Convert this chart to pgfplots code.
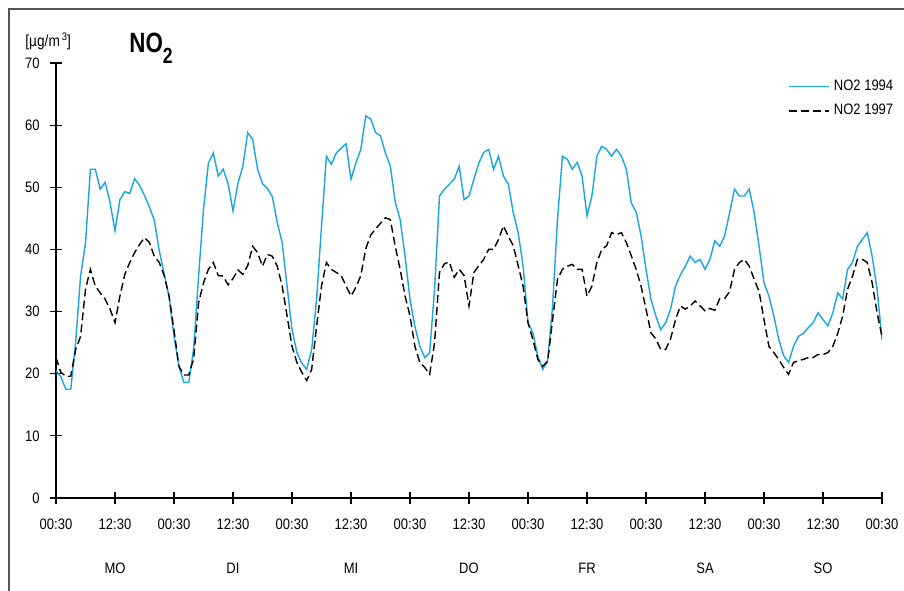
\documentclass[border=0pt]{standalone}
\usepackage{pgfplots}
\pgfplotsset{compat=1.18}
\usepackage{fontspec}
\setmainfont{Liberation Sans}[FakeStretch=0.86]
\newfontfamily\titlefont{Liberation Sans}[FakeStretch=0.8]
\definecolor{blue94}{RGB}{25,165,225}
\definecolor{framegray}{RGB}{85,85,85}
\begin{document}
\begin{tikzpicture}
\path[use as bounding box] (-28bp,-46.5bp) rectangle (424bp,249bp);
\draw[framegray, line width=0.8bp] (-23.5bp,-46.5bp) -- (-23.5bp,244.5bp) -- (424bp,244.5bp);
\node[anchor=base west, inner sep=0pt] at (36.5bp,222.5bp) {\titlefont\bfseries\fontsize{14}{14}\selectfont NO\raisebox{-5.5bp}{\fontsize{11}{11}\selectfont 2}};
\node[anchor=base west, inner sep=0pt] at (-15.5bp,225.5bp) {\fontsize{8}{9}\selectfont [µg/m\kern1bp\raisebox{3bp}{\fontsize{5.5}{5.5}\selectfont 3}]};
\begin{axis}[
  scale only axis, width=413bp, height=217.5bp,
  xmin=0, xmax=168, ymin=0, ymax=70,
  axis lines*=left,
  axis line style={line width=0.6bp, black},
  tick align=center,
  major tick length=6bp,
  tick style={black, line width=0.6bp},
  xtick={0,12,...,168},
  xticklabels={00:30,12:30,00:30,12:30,00:30,12:30,00:30,12:30,00:30,12:30,00:30,12:30,00:30,12:30,00:30},
  ytick={0,10,...,70},
  /pgf/number format/assume math mode=true,
  tick label style={font=\fontsize{7.6}{8}\selectfont},
  xticklabel style={anchor=north, inner ysep=0pt, yshift=-7.5bp},
  yticklabel style={anchor=east, inner xsep=0pt, xshift=-5bp},
  extra x ticks={12,36,60,84,108,132,156},
  extra x tick labels={MO,DI,MI,DO,FR,SA,SO},
  extra x tick style={xticklabel style={yshift=-22bp}},
  legend style={at={(axis cs:148.9,68.0)}, anchor=north west, draw=none, fill=none,
    inner sep=0pt, font=\fontsize{7.6}{8}\selectfont, row sep=1.5bp,
    /tikz/every even column/.append style={column sep=2bp}},
  legend cell align=left,
  legend image code/.code={\draw[#1] (0bp,0bp) -- (20bp,0bp);},
]
\addplot[blue94, line width=0.7bp] coordinates {
(0,20.5)(1,19.5)(2,17.5)(3,17.5)(4,25)(5,35.7)(6,41)(7,52.9)(8,52.9)(9,49.7)
(10,50.8)(11,47.5)(12,43)(13,48)(14,49.3)(15,49)(16,51.4)(17,50.3)(18,48.7)(19,46.8)
(20,44.7)(21,39.8)(22,36.1)(23,32.4)(24,26)(25,21.2)(26,18.6)(27,18.6)(28,24)(29,35.7)
(30,46.4)(31,53.9)(32,55.5)(33,51.8)(34,52.9)(35,50.6)(36,46.2)(37,50.6)(38,53.4)(39,58.8)
(40,57.7)(41,52.9)(42,50.6)(43,49.8)(44,48.5)(45,44.3)(46,41.1)(47,34.1)(48,27.1)(49,23.4)
(50,21.7)(51,20.7)(52,23.9)(53,32)(54,43.7)(55,55)(56,53.7)(57,55.5)(58,56.3)(59,57)
(60,51.3)(61,53.9)(62,56.1)(63,61.5)(64,61)(65,58.8)(66,58.3)(67,55.5)(68,53.4)(69,47.6)
(70,44.8)(71,38.9)(72,32)(73,27.6)(74,24.4)(75,22.6)(76,23.4)(77,33.6)(78,48.6)(79,49.7)
(80,50.5)(81,51.3)(82,53.4)(83,48)(84,48.6)(85,51.3)(86,53.9)(87,55.6)(88,56.1)(89,52.9)
(90,55)(91,51.8)(92,50.5)(93,45.9)(94,42.7)(95,37.4)(96,28.2)(97,26.6)(98,22.8)(99,20.7)
(100,22)(101,30.9)(102,44.8)(103,55)(104,54.5)(105,52.9)(106,54)(107,51.8)(108,45.4)(109,48.6)
(110,55)(111,56.6)(112,56.1)(113,55)(114,56.1)(115,55)(116,52.9)(117,47.5)(118,46)(119,42.2)
(120,36.8)(121,32)(122,29.3)(123,27.1)(124,28.2)(125,30.4)(126,34.1)(127,35.9)(128,37.3)(129,38.9)
(130,37.9)(131,38.4)(132,36.8)(133,38.4)(134,41.4)(135,40.5)(136,42.2)(137,45.9)(138,49.7)(139,48.6)
(140,48.6)(141,49.7)(142,45.9)(143,40.5)(144,34.6)(145,32.5)(146,29.3)(147,25.5)(148,22.9)(149,21.8)
(150,24.4)(151,26)(152,26.5)(153,27.4)(154,28.2)(155,29.8)(156,28.7)(157,27.7)(158,29.8)(159,33)
(160,32)(161,36.8)(162,37.9)(163,40.5)(164,41.6)(165,42.7)(166,38.9)(167,33.6)(168,25.5)
};
\addlegendentry{NO2 1994}
\addplot[black, line width=0.7bp, dash pattern=on 4bp off 2bp] coordinates {
(0,22.6)(1,20.2)(2,19.6)(3,19.6)(4,23.9)(5,26)(6,33.6)(7,36.8)(8,34.1)(9,33)
(10,32)(11,30.4)(12,28.2)(13,32.5)(14,36)(15,37.9)(16,39.5)(17,40.8)(18,41.9)(19,41.1)
(20,38.9)(21,37.9)(22,35.8)(23,32.5)(24,27)(25,21.2)(26,19.8)(27,19.8)(28,22.4)(29,31.4)
(30,34.6)(31,36.8)(32,37.9)(33,35.8)(34,35.7)(35,34.3)(36,35.3)(37,36.7)(38,36)(39,37.4)
(40,40.5)(41,39.5)(42,37.3)(43,39.2)(44,38.9)(45,37.3)(46,34.1)(47,29.3)(48,24.4)(49,21.8)
(50,20.2)(51,18.9)(52,20.7)(53,27.6)(54,34.1)(55,37.9)(56,36.8)(57,36.3)(58,35.8)(59,34.1)
(60,32.5)(61,33.9)(62,35.8)(63,40.1)(64,42.3)(65,43.3)(66,44.2)(67,45.1)(68,44.8)(69,40.5)
(70,36.8)(71,32.5)(72,29.3)(73,24.4)(74,21.8)(75,21)(76,19.9)(77,25)(78,36.3)(79,37.7)
(80,38)(81,35.5)(82,36.8)(83,35.8)(84,30.9)(85,36.3)(86,37.4)(87,38.4)(88,40)(89,40)
(90,41.6)(91,43.8)(92,42.1)(93,40.6)(94,37.4)(95,34.1)(96,28.2)(97,25.5)(98,22.3)(99,21.2)
(100,22)(101,28.7)(102,35.2)(103,36.8)(104,37.3)(105,37.6)(106,36.8)(107,36.8)(108,32.5)(109,34.1)
(110,37.9)(111,40)(112,40.6)(113,42.7)(114,42.4)(115,42.7)(116,41.1)(117,39)(118,36.8)(119,34.1)
(120,30.4)(121,26.6)(122,25.6)(123,23.9)(124,23.9)(125,25.6)(126,28.7)(127,30.9)(128,30.4)(129,30.9)
(130,31.7)(131,30.9)(132,30.1)(133,30.5)(134,30.2)(135,32.1)(136,32.1)(137,33.2)(138,36.8)(139,37.9)
(140,38.4)(141,37.3)(142,35.2)(143,33.2)(144,28.7)(145,24.4)(146,23.4)(147,22.3)(148,21)(149,19.9)
(150,21.8)(151,22.1)(152,22.3)(153,22.6)(154,22.6)(155,23.1)(156,23.1)(157,23.4)(158,24.4)(159,26.5)
(160,29.3)(161,33.6)(162,35.7)(163,38.4)(164,38.4)(165,37.9)(166,34.6)(167,29.8)(168,26)
};
\addlegendentry{NO2 1997}
\end{axis}
\end{tikzpicture}
\end{document}
